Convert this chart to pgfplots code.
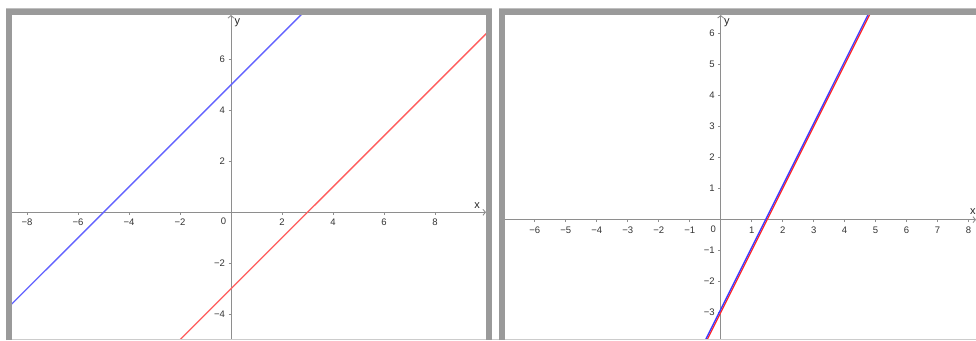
\documentclass[border=0pt]{standalone}
\usepackage{pgfplots}
\pgfplotsset{compat=1.18}
\usetikzlibrary{arrows.meta}
\usepackage{fontspec}
\setmainfont{Liberation Sans}
\definecolor{axisgray}{HTML}{8E8E8E}
\definecolor{framegray}{HTML}{9A9A9A}
\definecolor{ggblueA}{HTML}{6262FF}
\definecolor{ggredA}{HTML}{FF5C5C}
\definecolor{ggblueB}{HTML}{3A3AFF}
\definecolor{ggredB}{HTML}{FF2A2A}
\pgfplotsset{gg/.style={
  scale only axis, axis lines=middle,
  axis line style={color=axisgray, line width=0.9pt, -{Straight Barb[length=2.5pt,width=6pt]}},
  tick style={color=axisgray, line width=0.7pt},
  tick align=outside, major tick length=2.5pt,
  ticklabel style={font=\fontsize{9.5}{11}\selectfont, color=black!80},
  xticklabel style={yshift=-1pt},
  clip=true,
}}
\begin{document}
\begin{tikzpicture}[x=1pt,y=1pt]
\path[use as bounding box] (0,0) rectangle (976,340);
% left panel
\begin{axis}[gg, at={(12pt,1pt)}, anchor=south west, width=474pt, height=324pt,
  xmin=-8.59, xmax=10.0, ymin=-4.97, ymax=7.74,
  xtick={-8,-6,-4,-2,2,4,6,8}, xticklabels={−8,−6,−4,−2,2,4,6,8},
  ytick={-4,-2,2,4,6}, yticklabels={−4,−2,2,4,6}]
\addplot[ggblueA, line width=1.3pt] coordinates {(-10,-5) (4,9)};
\addplot[ggredA, line width=1.3pt] coordinates {(-3,-6) (11,8)};
\node[anchor=north east, font=\fontsize{9.5}{11}\selectfont, color=black!80, inner sep=2pt] at (axis cs:-0.1,-0.15) {0};
\node[font=\fontsize{11}{12}\selectfont, color=black!85] at (axis cs:9.65,0.25) {x};
\node[font=\fontsize{11}{12}\selectfont, color=black!85] at (axis cs:0.25,7.42) {y};
\end{axis}
% right panel
\begin{axis}[gg, at={(505pt,1pt)}, anchor=south west, width=471pt, height=324pt,
  xmin=-6.96, xmax=8.24, ymin=-3.85, ymax=6.60,
  xtick={-6,-5,-4,-3,-2,-1,1,2,3,4,5,6,7,8}, xticklabels={−6,−5,−4,−3,−2,−1,1,2,3,4,5,6,7,8},
  ytick={-3,-2,-1,1,2,3,4,5,6}, yticklabels={−3,−2,−1,1,2,3,4,5,6}]
\addplot[ggredB, line width=1.3pt] coordinates {(-1,-5) (5,7)};
\addplot[ggblueB, line width=1.3pt] coordinates {(-1,-4.9) (5,7.1)};
\node[anchor=north east, font=\fontsize{9.5}{11}\selectfont, color=black!80, inner sep=2pt] at (axis cs:-0.08,-0.12) {0};
\node[font=\fontsize{11}{12}\selectfont, color=black!85] at (axis cs:8.14,0.25) {x};
\node[font=\fontsize{11}{12}\selectfont, color=black!85] at (axis cs:0.2,6.35) {y};
\end{axis}
% frames
\draw[color=black!20, line width=1pt] (6,0.5) -- (976,0.5);
\draw[color=framegray, line width=6pt] (9,0) -- (9,328) -- (489,328) -- (489,0);
\draw[color=framegray, line width=6pt] (502,0) -- (502,328) -- (976,328);
\draw[color=black!25, line width=0.8pt] (6,331.2) -- (492,331.2);
\draw[color=black!25, line width=0.8pt] (499,331.2) -- (976,331.2);
\end{tikzpicture}
\end{document}
